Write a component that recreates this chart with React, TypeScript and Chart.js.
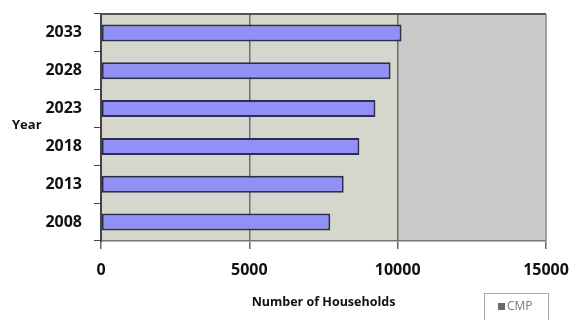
import React, { useEffect, useRef } from "react";
import { Chart, registerables } from "chart.js";

Chart.register(...registerables);

const categories = ["2033", "2028", "2023", "2018", "2013", "2008"];
const households = [10130, 9760, 9250, 8710, 8180, 7730];
const seriesName = "CMP";
const xTicks = [0, 5000, 10000, 15000];
const xTitle = "Number of Households";
const yTitle = "Year";

const FONT = "'Open Sans', 'DejaVu Sans', sans-serif";

const decorPlugin = {
  id: "decor",
  beforeDraw(chart: any) {
    const { ctx, chartArea: a, scales } = chart;
    const x = scales.x;
    const x10 = x.getPixelForValue(10000);
    ctx.save();
    ctx.fillStyle = "#d5d6cc";
    ctx.fillRect(a.left, a.top, x10 - a.left, a.bottom - a.top);
    ctx.fillStyle = "#c9c9c8";
    ctx.fillRect(x10, a.top, a.right - x10, a.bottom - a.top);
    ctx.restore();
  },
  afterDraw(chart: any) {
    const { ctx, chartArea: a } = chart;
    ctx.save();
    ctx.strokeStyle = "#555555";
    ctx.lineWidth = 2;
    ctx.beginPath();
    ctx.moveTo(a.left, a.top);
    ctx.lineTo(a.right, a.top);
    ctx.stroke();
    ctx.strokeStyle = "#8a8a8a";
    ctx.lineWidth = 1.5;
    ctx.beginPath();
    ctx.moveTo(a.right, a.top);
    ctx.lineTo(a.right, a.bottom);
    ctx.stroke();
    ctx.fillStyle = "#111111";
    ctx.font = `bold 13px ${FONT}`;
    ctx.textAlign = "left";
    ctx.textBaseline = "middle";
    ctx.fillText(yTitle, 12, 125);
    const lx = 484, ly = 293, lw = 64, lh = 30;
    ctx.fillStyle = "#ffffff";
    ctx.fillRect(lx, ly, lw, lh);
    ctx.strokeStyle = "#aaaaaa";
    ctx.lineWidth = 1;
    ctx.strokeRect(lx + 0.5, ly + 0.5, lw, lh);
    ctx.fillStyle = "#6a6a6a";
    ctx.fillRect(lx + 14, ly + 10, 7, 7);
    ctx.fillStyle = "#777777";
    ctx.font = `12px ${FONT}`;
    ctx.textBaseline = "middle";
    ctx.fillText(seriesName, lx + 23, ly + 14);
    ctx.restore();
  },
};

export default function App() {
  const ref = useRef<HTMLCanvasElement>(null);
  useEffect(() => {
    if (!ref.current) return;
    const chart = new Chart(ref.current, {
      type: "bar",
      data: {
        labels: categories,
        datasets: [
          {
            label: seriesName,
            data: households,
            backgroundColor: "#9090f8",
            borderColor: "#2e2e4a",
            borderWidth: 2,
            borderSkipped: false,
            barPercentage: 0.45,
            categoryPercentage: 1,
          },
        ],
      },
      options: {
        indexAxis: "y",
        animation: false,
        responsive: true,
        maintainAspectRatio: false,
        layout: { padding: { top: 14, right: 36, left: 0, bottom: 0 } },
        plugins: {
          legend: { display: false },
          tooltip: { enabled: false },
        },
        scales: {
          x: {
            min: 0,
            max: 15000,
            afterBuildTicks: (s: any) => {
              s.ticks = xTicks.map((v) => ({ value: v }));
            },
            afterFit: (s: any) => {
              s.height = 79;
            },
            ticks: {
              color: "#111111",
              font: { family: FONT, size: 16, weight: "bold" },
              padding: 12,
              maxRotation: 0,
              callback: (v: any) => String(v),
            },
            grid: {
              color: (c: any) =>
                c.tick && (c.tick.value === 5000 || c.tick.value === 10000)
                  ? "#6e6e6e"
                  : "rgba(0,0,0,0)",
              tickColor: "#666666",
              tickLength: 8,
              lineWidth: 1.5,
            },
            border: { color: "#777777", width: 1.5 },
            title: {
              display: true,
              text: xTitle,
              color: "#111111",
              font: { family: FONT, size: 12.5, weight: "bold" },
              padding: { top: 6, bottom: 10 },
            },
          },
          y: {
            offset: true,
            afterFit: (s: any) => {
              s.width = 101;
              s.paddingTop = 0;
              s.paddingBottom = 0;
            },
            ticks: {
              color: "#111111",
              font: { family: FONT, size: 16, weight: "bold" },
              padding: 12,
            },
            grid: {
              offset: true,
              drawOnChartArea: false,
              tickColor: "#444444",
              tickLength: 7,
            },
            border: { color: "#444444", width: 2 },
          },
        },
      },
      plugins: [decorPlugin],
    });
    return () => chart.destroy();
  }, []);
  return (
    <div style={{ position: "fixed", left: 0, top: 0, width: 582, height: 320, background: "#ffffff" }}>
      <canvas ref={ref} />
    </div>
  );
}
